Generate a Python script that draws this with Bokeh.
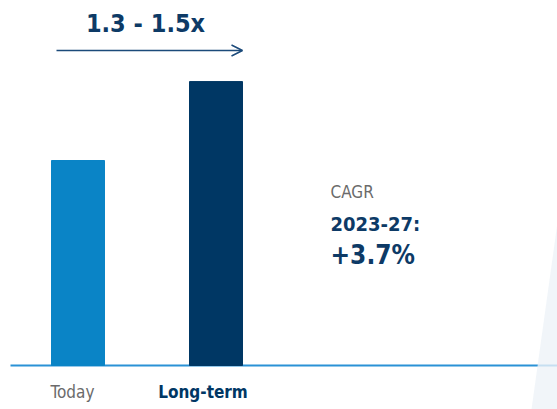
from bokeh.plotting import figure
from bokeh.models import Range1d, Arrow, OpenHead, PolyAnnotation, ColumnDataSource
from bokeh.core.properties import value
from bokeh.embed import file_html
from bokeh.resources import INLINE

# data
categories = ["Today", "Long-term"]
values = [1.0, 1.385]
bar_colors = ["#0a84c6", "#003764"]
label_colors = ["#6b6b6b", "#003764"]
label_styles = ["normal", "bold"]
multiple_text = "1.3 - 1.5x"
cagr_lines = ["CAGR", "2023-27:", "+3.7%"]

W, H = 557, 409
FONT = "DejaVu Sans Condensed, Roboto"
DY = 11  # text rendering offset compensation (px)

# x: index units, 138 px per category step; y: 205 px per unit, baseline 44px from bottom
px_x, px_y = 138.0, 205.0
x0 = -77.5 / px_x
y0 = -44.0 / px_y

def sx(px):
    return x0 + px / px_x

def sy(py_top):
    return y0 + (H - py_top) / px_y

p = figure(width=W, height=H, output_backend="svg", toolbar_location=None,
           x_range=Range1d(x0, x0 + W / px_x), y_range=Range1d(y0, y0 + H / px_y),
           min_border=0, outline_line_color=None)
p.axis.visible = False
p.grid.visible = False
p.background_fill_color = "white"
p.border_fill_color = "white"

# faint background decoration on the right
p.add_layout(PolyAnnotation(xs=[557, 531, 557], ys=[187, 0, 0], xs_units="screen", ys_units="screen",
                            fill_color="#eef2f8", fill_alpha=0.8, line_color=None))

idx = list(range(len(categories)))
src = ColumnDataSource(dict(x=idx, top=values, color=bar_colors, cat=categories,
                            lc=label_colors, fs=label_styles, xo=[-5.5, -13]))

# baseline
p.segment(x0=[sx(10)], y0=[0], x1=[sx(W)], y1=[0], line_color="#2a92d6", line_width=2)

p.vbar(x="x", top="top", bottom=0, width=53 / px_x, color="color", source=src)

# category labels
p.text(x="x", y=sy(402 - DY), text="cat", text_color="lc", text_font_style="fs", x_offset="xo",
       text_align="center", text_baseline="alphabetic", text_font=value(FONT),
       text_font_size="17px", source=src)

# growth arrow
ay = sy(50)
p.add_layout(Arrow(x_start=sx(56), y_start=ay, x_end=sx(242), y_end=ay, line_color="#1b4a7a", line_width=1.5,
                   end=OpenHead(size=11, line_color="#1b4a7a", line_width=1.5)))
p.text(x=[sx(145)], y=[sy(34 - DY)], text=[multiple_text], text_align="center", text_baseline="alphabetic",
       text_font=value(FONT), text_font_style="bold", text_font_size="25px", text_color="#0d3a66")

# CAGR block
p.text(x=[sx(330)], y=[sy(202 - DY)], text=[cagr_lines[0]], text_baseline="alphabetic",
       text_font=value(FONT), text_font_size="17px", text_color="#6b6b6b")
p.text(x=[sx(330)], y=[sy(234 - DY)], text=[cagr_lines[1]], text_baseline="alphabetic",
       text_font=value(FONT), text_font_style="bold", text_font_size="20px", text_color="#0d3a66")
p.text(x=[sx(330)], y=[sy(265 - DY)], text=[cagr_lines[2]], text_baseline="alphabetic",
       text_font=value(FONT), text_font_style="bold", text_font_size="26px", text_color="#0d3a66")

open("out.html", "w").write(file_html(p, INLINE))
